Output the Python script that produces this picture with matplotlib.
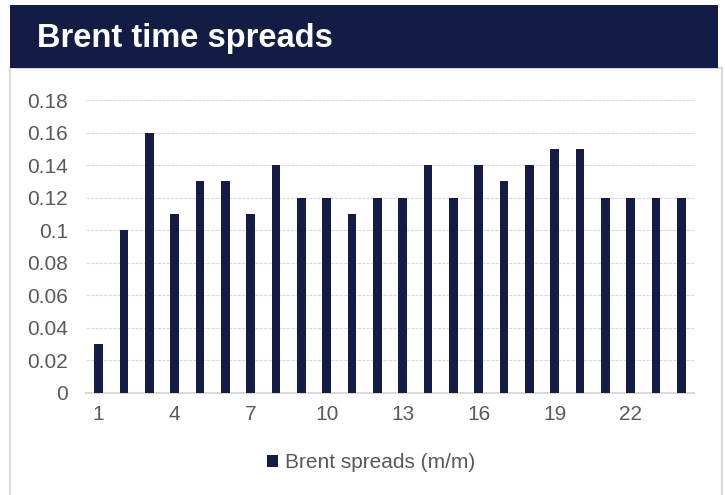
import matplotlib
matplotlib.use("Agg")
import matplotlib.pyplot as plt
from matplotlib.patches import Rectangle
import numpy as np

plt.rcParams['font.family'] = ['Liberation Sans', 'DejaVu Sans']

title = "Brent time spreads"
series_name = "Brent spreads (m/m)"
months = list(range(1, 25))
spreads = [0.03, 0.10, 0.16, 0.11, 0.13, 0.13, 0.11, 0.14, 0.12, 0.12, 0.11, 0.12,
           0.12, 0.14, 0.12, 0.14, 0.13, 0.14, 0.15, 0.15, 0.12, 0.12, 0.12, 0.12]
x_ticks = [1, 4, 7, 10, 13, 16, 19, 22]
y_ticks = [0, 0.02, 0.04, 0.06, 0.08, 0.1, 0.12, 0.14, 0.16, 0.18]
y_tick_labels = ["0", "0.02", "0.04", "0.06", "0.08", "0.1", "0.12", "0.14", "0.16", "0.18"]

navy = "#121c44"
text_grey = "#595959"
line_grey = "#d9d9d9"

W, H = 725, 495
fig = plt.figure(figsize=(W / 100, H / 100), dpi=100)
fig.patch.set_facecolor("white")

# white panel with thin grey frame (behind the axes)
fig.add_artist(Rectangle((10 / W, -0.01), 712 / W, (H - 68) / H + 0.01,
                         transform=fig.transFigure, facecolor="white",
                         edgecolor=line_grey, linewidth=1.5, zorder=-10))
# header band
fig.add_artist(Rectangle((10 / W, 1 - 68 / H), 708 / W, 63 / H,
                         transform=fig.transFigure, facecolor=navy,
                         edgecolor="none", zorder=-9))
fig.text(37 / W, 1 - 39 / H, title, color="white", fontsize=23.5,
         fontweight="bold", va="center", ha="left")

ax = fig.add_axes([86 / W, 1 - 393 / H, (694 - 86) / W, (393 - 100) / H])
ax.bar(months, spreads, width=0.33, color=navy, label=series_name, zorder=3)
ax.set_xlim(0.5, 24.5)
ax.set_ylim(0, 0.18)
ax.set_xticks(x_ticks)
ax.set_xticklabels([str(t) for t in x_ticks])
ax.set_yticks(y_ticks)
ax.set_yticklabels(y_tick_labels)
ax.tick_params(axis="both", length=0, labelsize=15, labelcolor=text_grey)
ax.tick_params(axis="x", pad=9)
ax.tick_params(axis="y", pad=13)
ax.grid(axis="y", color=line_grey, linewidth=0.8, linestyle=(0, (3, 1)), zorder=0)
for side in ("top", "right", "left"):
    ax.spines[side].set_visible(False)
ax.spines["bottom"].set_color(line_grey)
ax.spines["bottom"].set_linewidth(1.5)
ax.set_facecolor("none")

leg = fig.legend(loc="center", bbox_to_anchor=(371 / W, 1 - 463 / H), frameon=False,
                 fontsize=15, handlelength=0.55, handleheight=0.55,
                 handletextpad=0.3)
for t in leg.get_texts():
    t.set_color(text_grey)

fig.savefig("out.png", dpi=100)
